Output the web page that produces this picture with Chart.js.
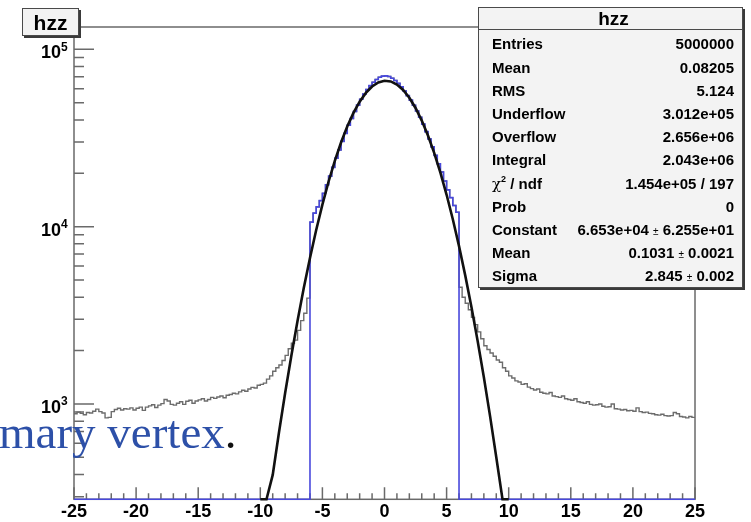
<!DOCTYPE html>
<html>
<head>
<meta charset="utf-8">
<title>hzz</title>
<script src="https://cdn.jsdelivr.net/npm/chart.js@4.4.0/dist/chart.umd.min.js"></script>
<style>
  html, body { margin: 0; padding: 0; background: #fff; }
  #wrap { position: relative; width: 751px; height: 522px; overflow: hidden; }
  #plot { position: absolute; left: 0; top: 0; }
  .pave {
    position: absolute; background: #f3f3f3; border: 1px solid #4a4a4a;
    box-shadow: 2px 2px 0 #3a3a3a;
    font-family: "Liberation Sans", Arial, Helvetica, sans-serif; font-weight: bold; color: #000;
  }
  #title { left: 22px; top: 8px; width: 55px; height: 26px; }
  #title span { position: absolute; left: 0; right: 0; top: 2px; text-align: center; font-size: 21px; line-height: 24px; }
  #stats { left: 478px; top: 7px; width: 263px; height: 279px; }
  #stats .head { position: absolute; left: 0; right: 0; top: 0; height: 21px; border-bottom: 1px solid #4a4a4a; }
  #stats .head span { position: absolute; left: 0; right: 0; top: 0px; text-align: center; font-size: 19px; line-height: 22px; padding-left: 6px; }
  .row { position: absolute; left: 13px; right: 8px; height: 20px; line-height: 20px; font-size: 15px; white-space: nowrap; }
  .row .v { position: absolute; right: 0; top: 0; }
  .pm { font-size: 10px; font-weight: normal; }
  .chi { font-family: "DejaVu Serif", serif; font-weight: normal; font-size: 15px; }
  .row sup { font-size: 9px; line-height: 0; position: relative; top: -1px; vertical-align: super; }
  #slide {
    position: absolute; left: -1px; top: 409px; font-family: "Liberation Serif", "Times New Roman", serif;
    font-size: 47px; line-height: 47px; color: #2d50a8; white-space: nowrap;
  }
  #slide .dot { color: #111; }
</style>
</head>
<body>
<div id="wrap">
  <canvas id="plot" width="751" height="522"></canvas>

  <div class="pave" id="title"><span>hzz</span></div>

  <div class="pave" id="stats">
    <div class="head"><span>hzz</span></div>
    <div class="row" style="top:26.4px">Entries<span class="v">5000000</span></div>
    <div class="row" style="top:49.6px">Mean<span class="v">0.08205</span></div>
    <div class="row" style="top:72.8px">RMS<span class="v">5.124</span></div>
    <div class="row" style="top:96.0px">Underflow<span class="v">3.012e+05</span></div>
    <div class="row" style="top:119.2px">Overflow<span class="v">2.656e+06</span></div>
    <div class="row" style="top:142.4px">Integral<span class="v">2.043e+06</span></div>
    <div class="row" style="top:165.6px"><span class="chi">χ</span><sup>2</sup> / ndf<span class="v">1.454e+05 / 197</span></div>
    <div class="row" style="top:188.8px">Prob<span class="v">0</span></div>
    <div class="row" style="top:212.0px">Constant<span class="v">6.653e+04 <span class="pm">±</span> 6.255e+01</span></div>
    <div class="row" style="top:235.2px">Mean<span class="v">0.1031 <span class="pm">±</span> 0.0021</span></div>
    <div class="row" style="top:258.4px">Sigma<span class="v">2.845 <span class="pm">±</span> 0.002</span></div>
  </div>

  <div id="slide">mary vertex<span class="dot">.</span></div>
</div>

<script>
// Histogram binning: 200 bins of 0.25 over [-25, 25]
const xMin = -25;
const xMax = 25;
const binWidth = 0.25;

// hzz counts for z < -6 (76 bins, starting at -25)
const leftTail = [
  880, 900, 885, 870, 895, 890, 910, 935, 905, 890,
  835, 840, 905, 930, 945, 925, 940, 935, 950, 925,
  945, 960, 920, 960, 975, 990, 955, 985, 1005, 1060,
  1040, 995, 985, 1010, 1030, 995, 1035, 1050, 1010, 1040,
  1055, 1070, 1040, 1060, 1090, 1075, 1095, 1110, 1085, 1120,
  1130, 1150, 1140, 1170, 1195, 1180, 1215, 1240, 1230, 1275,
  1290, 1310, 1380, 1440, 1530, 1600, 1660, 1760, 1880, 2050,
  2200, 2290, 2600, 2950, 3250, 3950
];

// counts inside the |z| < 6 window (48 bins, starting at -6)
const coreCounts = [
  10610, 11920, 12920, 14020, 15400, 17220, 19280, 21600, 24280, 27070, 30250, 33550,
  37310, 40760, 44620, 48470, 52240, 55880, 59290, 62420, 65220, 67600, 69530, 70620,
  70860, 70200, 68690, 66700, 64240, 61390, 58240, 54800, 51680, 48370, 44910, 41390,
  37850, 34340, 31230, 28180, 25220, 22630, 20310, 18090, 16110, 14580, 13160, 12060
];

// hzz counts for z > 6 (76 bins, starting at 6)
const rightTail = [
  4550, 4000, 3700, 3400, 3080, 2800, 2550, 2330, 2130, 2030,
  1940, 1860, 1770, 1720, 1600, 1530, 1440, 1400, 1350, 1330,
  1290, 1300, 1245, 1220, 1200, 1215, 1165, 1150, 1140, 1160,
  1110, 1100, 1090, 1110, 1070, 1060, 1050, 1070, 1030, 1020,
  1010, 1030, 995, 985, 990, 1000, 970, 960, 965, 1000,
  940, 935, 925, 930, 915, 920, 910, 950, 905, 895,
  900, 885, 880, 870, 865, 875, 860, 855, 860, 895,
  880, 850, 845, 835, 850, 840
];

// Gaussian fit (Constant 6.653e+04, Mean 0.1031, Sigma 2.845) sampled every 0.5
const fitX = [
  -10, -9.5, -9, -8.5, -8, -7.5, -7, -6.5, -6, -5.5, -5, -4.5, -4, -3.5, -3, -2.5, -2, -1.5, -1, -0.5,
  0, 0.5, 1, 1.5, 2, 2.5, 3, 3.5, 4, 4.5, 5, 5.5, 6, 6.5, 7, 7.5, 8, 8.5, 9, 9.5, 10
];
const fitY = [
  121.5, 223.4, 398.0, 687.7, 1152, 1872, 2948, 4502, 6664, 9566, 13317, 17974, 23515, 29831, 36703,
  43780, 50631, 56770, 61720, 65050, 66490, 65890, 63310, 58970, 53270, 46680, 39620, 32620, 26040,
  20160, 15120, 11005, 7767, 5312, 3523, 2265, 1413, 854, 500.6, 284.5, 156.7
];

// Axis settings and labels
const yAxisMin = 290;
const yAxisMax = 133600;
const xLabelValues = [-25, -20, -15, -10, -5, 0, 5, 10, 15, 20, 25];
const yDecadeExponents = [3, 4, 5];

// Assemble full 200-bin contents
const greyCounts = [...leftTail, ...coreCounts, ...rightTail];
const blueCounts = [...new Array(leftTail.length).fill(0), ...coreCounts, ...new Array(rightTail.length).fill(0)];

// Histogram outline: one point at each lower edge, plus the upper edge of the last bin.
// Empty or low bins sit on the axis floor, as on a log-scale frame.
function histPoints(counts) {
  const pts = counts.map((c, i) => ({ x: xMin + i * binWidth, y: Math.max(c, yAxisMin) }));
  pts.push({ x: xMin + counts.length * binWidth, y: Math.max(counts[counts.length - 1], yAxisMin) });
  return pts;
}
const fitPoints = fitX.map((x, i) => ({ x: x, y: Math.max(fitY[i], yAxisMin) }));

// Frame, inward tick marks and decade labels
const frameAxes = {
  id: 'frameAxes',
  beforeDatasetsDraw(chart) {
    const { ctx, chartArea: a, scales: { x, y } } = chart;
    ctx.save();
    ctx.strokeStyle = '#6a6a6a';
    ctx.lineWidth = 1.5;
    ctx.strokeRect(a.left, a.top, a.right - a.left, a.bottom - a.top);
    ctx.beginPath();
    for (let v = xMin; v <= xMax; v++) {
      const px = x.getPixelForValue(v);
      const len = v % 5 === 0 ? 12 : 6;
      ctx.moveTo(px, a.bottom);
      ctx.lineTo(px, a.bottom - len);
    }
    for (let k = 2; k <= 5; k++) {
      for (let m = 1; m <= 9; m++) {
        const v = m * Math.pow(10, k);
        if (v < yAxisMin || v > yAxisMax) continue;
        const py = y.getPixelForValue(v);
        ctx.moveTo(a.left, py);
        ctx.lineTo(a.left + (m === 1 ? 20 : 10), py);
      }
    }
    ctx.stroke();

    ctx.fillStyle = '#000';
    ctx.textBaseline = 'middle';
    yDecadeExponents.forEach(e => {
      const py = y.getPixelForValue(Math.pow(10, e));
      ctx.font = 'bold 18px "Liberation Sans", Arial, sans-serif';
      ctx.textAlign = 'right';
      ctx.fillText('10', 61, py + 4);
      ctx.font = 'bold 12px "Liberation Sans", Arial, sans-serif';
      ctx.textAlign = 'left';
      ctx.fillText(String(e), 61, py - 2);
    });
    ctx.restore();
  }
};

new Chart(document.getElementById('plot'), {
  type: 'line',
  data: {
    datasets: [
      {
        label: 'gaus fit',
        data: fitPoints,
        borderColor: '#111',
        borderWidth: 2.6,
        pointRadius: 0,
        tension: 0,
        clip: { left: 0, top: 0, right: 0, bottom: 2 },
        order: 0
      },
      {
        label: 'hzz |z|<6',
        data: histPoints(blueCounts),
        borderColor: '#4848dc',
        borderWidth: 1.6,
        pointRadius: 0,
        stepped: true,
        clip: { left: 0, top: 0, right: 0, bottom: 3 },
        order: 1
      },
      {
        label: 'hzz',
        data: histPoints(greyCounts),
        borderColor: '#6c6c6c',
        borderWidth: 1.4,
        pointRadius: 0,
        stepped: true,
        order: 2
      }
    ]
  },
  options: {
    responsive: false,
    animation: false,
    devicePixelRatio: 1,
    layout: { padding: { top: 27, right: 56, left: 0, bottom: 0 } },
    plugins: { legend: { display: false }, tooltip: { enabled: false } },
    scales: {
      x: {
        type: 'linear',
        min: xMin,
        max: xMax,
        grid: { display: false, drawTicks: false },
        border: { display: false },
        afterFit(scale) { scale.height = 22.7; },
        afterBuildTicks(scale) { scale.ticks = xLabelValues.map(v => ({ value: v })); },
        ticks: {
          autoSkip: false,
          maxRotation: 0,
          padding: 2,
          color: '#000',
          font: { family: '"Liberation Sans", Arial, sans-serif', weight: 'bold', size: 18 },
          callback: (v) => String(v)
        }
      },
      y: {
        type: 'logarithmic',
        min: yAxisMin,
        max: yAxisMax,
        grid: { display: false, drawTicks: false },
        border: { display: false },
        ticks: { display: false },
        afterFit(scale) { scale.width = 74; }
      }
    }
  },
  plugins: [frameAxes]
});
</script>
</body>
</html>
